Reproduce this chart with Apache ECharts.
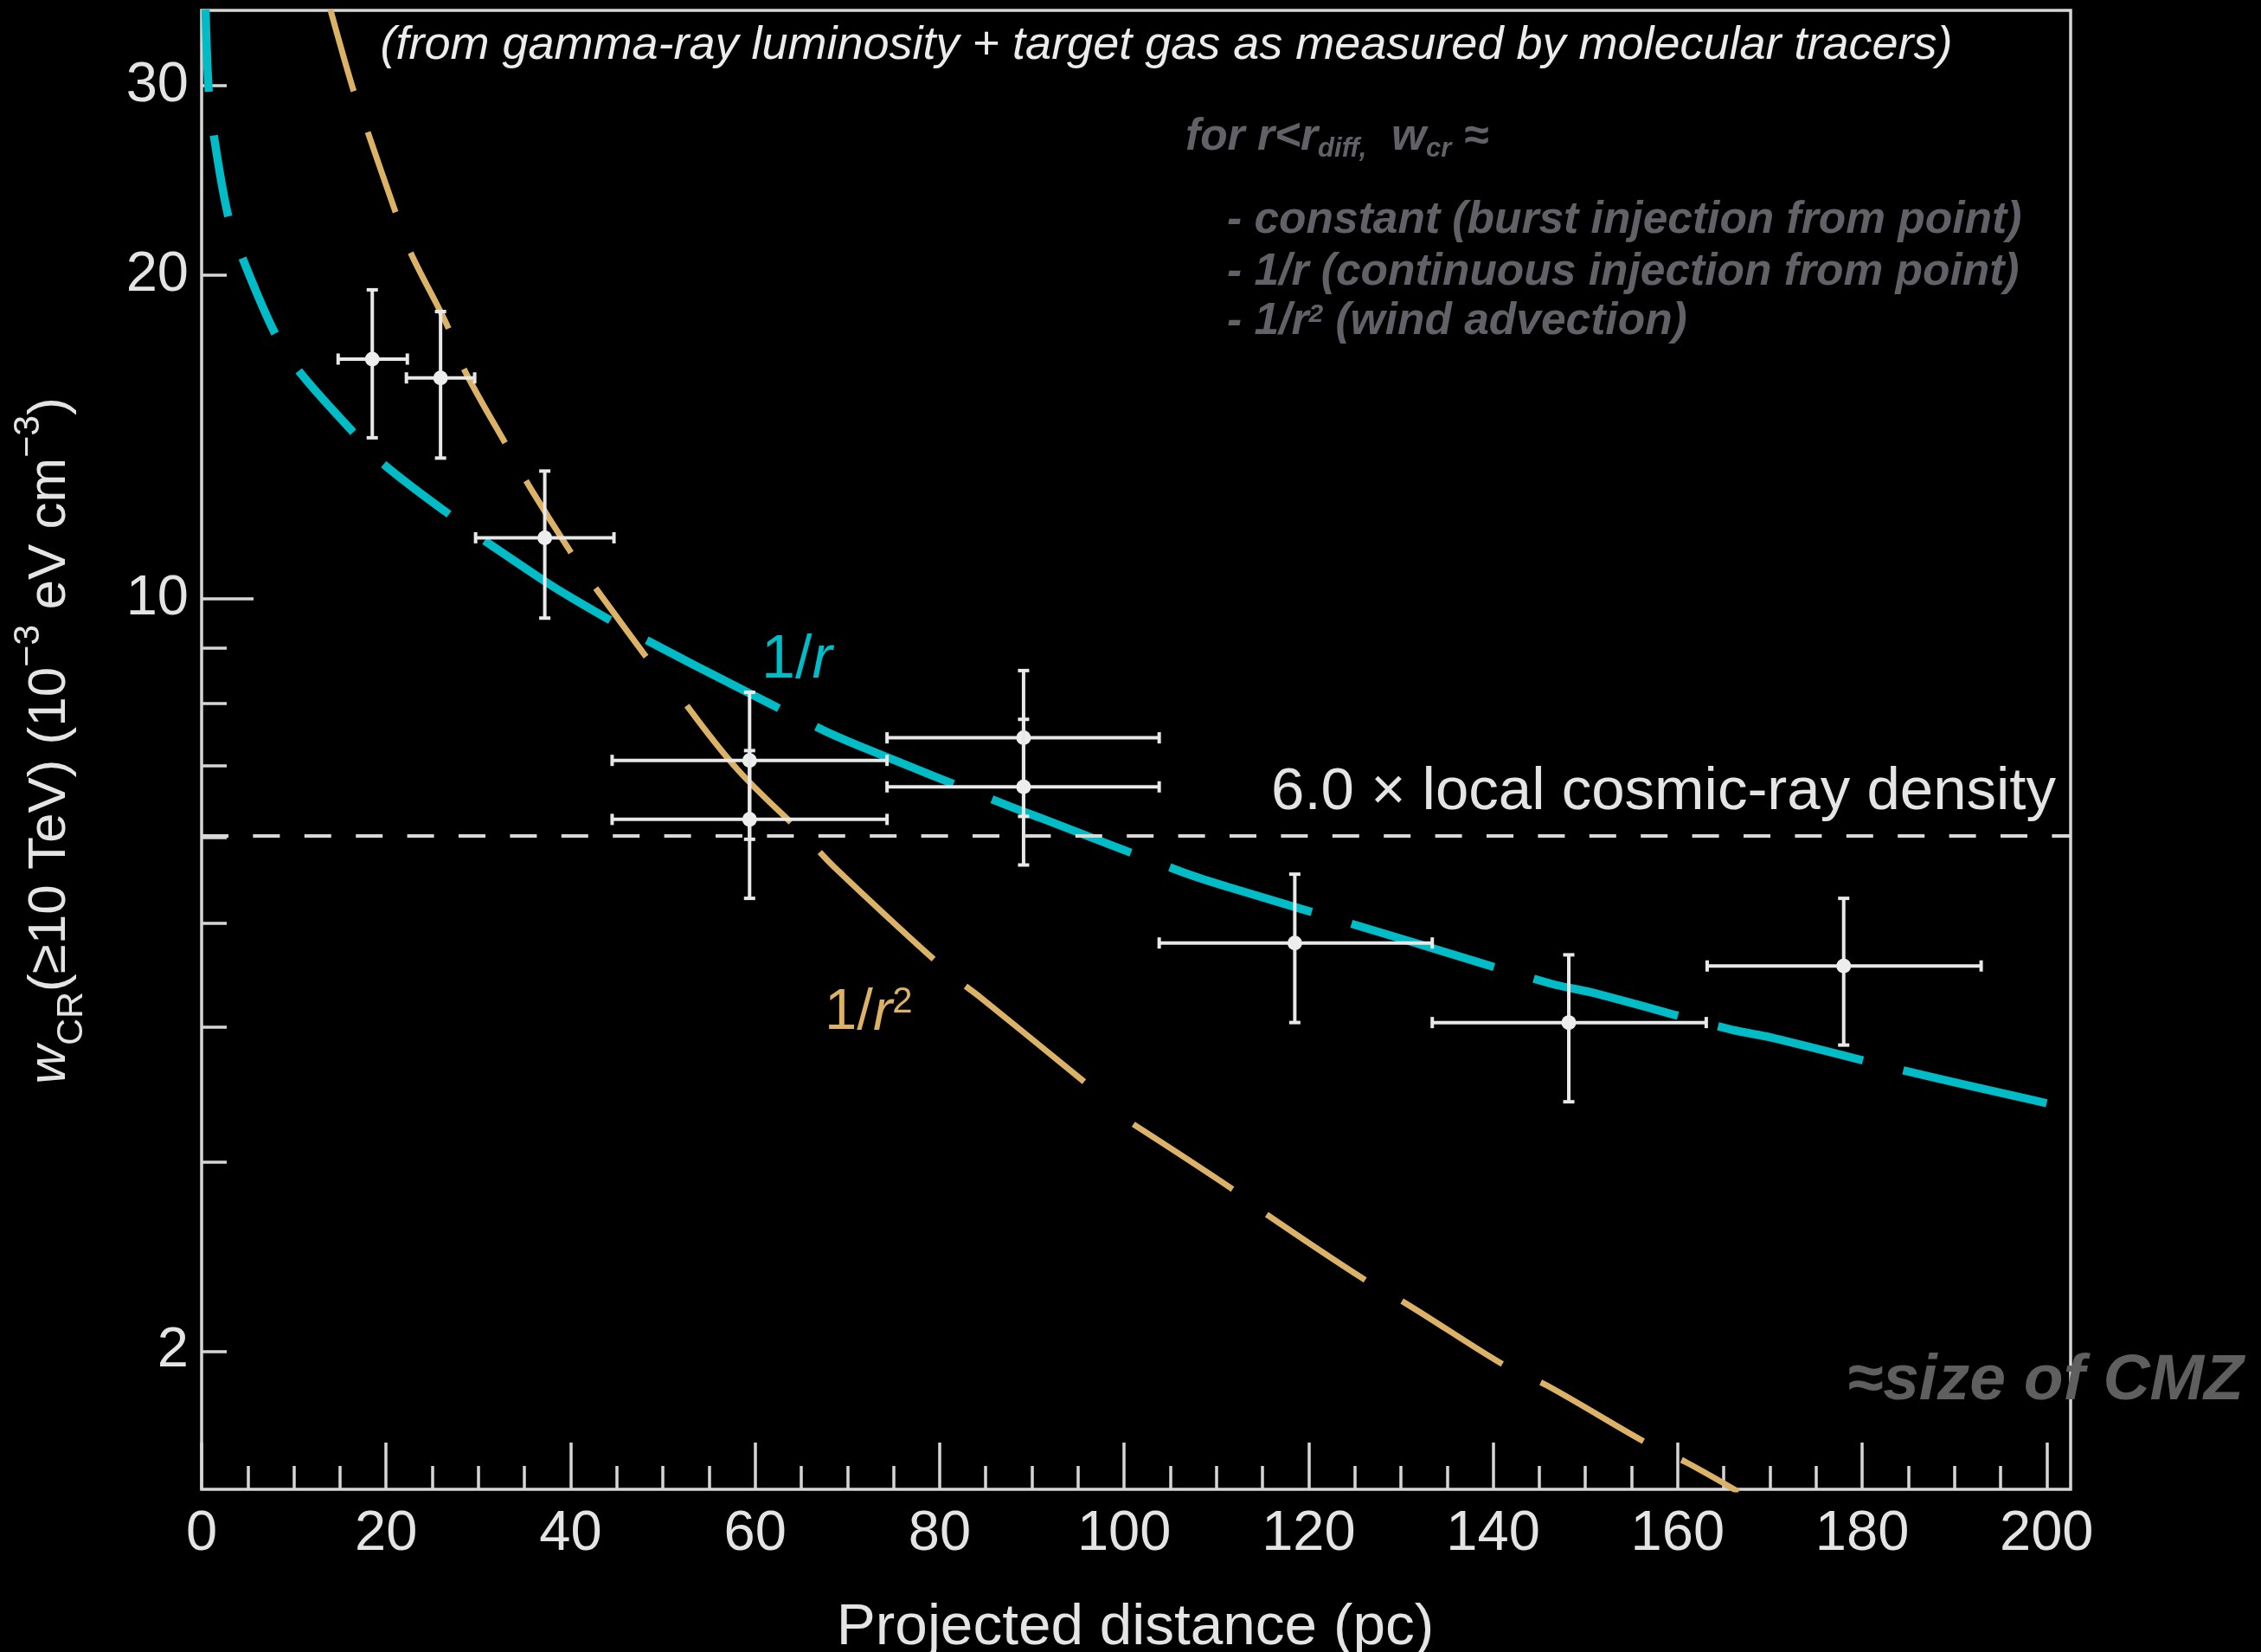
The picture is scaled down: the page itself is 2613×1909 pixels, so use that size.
<!DOCTYPE html>
<html>
<head>
<meta charset="utf-8">
<title>Cosmic-ray energy density vs projected distance</title>
<script src="https://cdn.jsdelivr.net/npm/echarts@6/dist/echarts.min.js"></script>
<style>
  html, body { margin: 0; padding: 0; background: #000; }
  #chart { width: 2613px; height: 1909px; }
</style>
</head>
<body>
<div id="chart"></div>
<script>
// Measured cosmic-ray energy density (>= 10 TeV) in radial bins around the Galactic Centre
const binCenter   = [18.5, 25.9, 37.2, 59.4, 59.4, 89.1, 89.1, 118.5, 148.2, 178.0];
const binLow      = [14.8, 22.2, 29.7, 44.5, 44.5, 74.3, 74.3, 103.8, 133.4, 163.2];
const binHigh     = [22.3, 29.6, 44.7, 74.3, 74.3, 103.8, 103.8, 133.4, 163.1, 192.9];
const density     = [16.71, 16.05, 11.40, 7.08, 6.24, 7.43, 6.69, 4.79, 4.04, 4.56];
const densityLow  = [14.12, 13.52, 9.60, 5.98, 5.27, 6.28, 5.66, 4.04, 3.41, 3.85];
const densityHigh = [19.38, 18.50, 13.15, 8.19, 7.23, 8.58, 7.73, 5.55, 4.67, 5.27];

// Projected 1/r profile (continuous injection from a point)
const invRDistance = [0.43, 0.78, 1.34, 2.94, 4.53, 8.06, 10.72, 16.63, 19.75, 27.11,
                      30.67, 37.41, 40.08, 45.99, 53.21, 67.28, 71.5, 87.14, 91.36, 106.44,
                      111.27, 126.37, 131.2, 146.3, 150.6, 165.76, 170.3, 185.46, 200.0];
const invRDensity  = [35.3, 29.57, 26.91, 22.58, 20.64, 17.58, 16.22, 14.23, 13.34, 11.94,
                      11.33, 10.36, 10.03, 9.38, 8.70, 7.56, 7.29, 6.44, 6.24, 5.57,
                      5.40, 4.94, 4.80, 4.39, 4.31, 3.98, 3.91, 3.63, 3.40];

// Projected 1/r^2 profile (wind advection)
const invR2Distance = [13.96, 16.51, 18.02, 20.98, 22.60, 26.64, 28.35, 33.51, 35.76, 40.64,
                       43.32, 49.51, 52.6, 58.18, 65.4, 68.53, 81.04, 84.47, 95.67, 101.0,
                       111.57, 115.36, 126.6, 130.73, 141.5, 145.79, 156.85, 160.96, 166.6];
const invR2Density  = [35.3, 29.6, 27.15, 22.94, 21.03, 17.94, 16.41, 13.67, 12.63, 10.85,
                       10.07, 8.53, 7.96, 6.93, 6.02, 5.64, 4.49, 4.26, 3.56, 3.25,
                       2.835, 2.683, 2.315, 2.21, 1.934, 1.859, 1.639, 1.576, 1.48];

const localDensityFactor = 6.0;

// Axis ranges and ticks
const distanceMax = 202.6;
const densityMin = 1.488;
const densityMax = 35.24;
const xTickValues  = [0, 20, 40, 60, 80, 100, 120, 140, 160, 180, 200];
const xMinorValues = [5, 10, 15, 25, 30, 35, 45, 50, 55, 65, 70, 75, 85, 90, 95,
                      105, 110, 115, 125, 130, 135, 145, 150, 155, 165, 170, 175,
                      185, 190, 195];
const yLabelValues = [2, 10, 20, 30];
const yMinorValues = [2, 3, 4, 5, 6, 7, 8, 9, 20, 30];
const yMajorValues = [10];

// ---------------------------------------------------------------------------
const lg = Math.log10;
const FONT = '"Liberation Sans", Arial, Helvetica, sans-serif';
const TXT = '#e4e4e4';
const FRAME = '#d6d6d6';
const CYAN = '#00bcc6';
const GOLD = '#dcb266';
const GREY = '#606268';

// Dash rhythm changes along each model curve: short dashes on the steep inner part
const invRZones  = [{ from: 0, to: 9, dash: [95, 51] }, { from: 10, to: 28, dash: [172, 48] }];
const invR2Zones = [{ from: 0, to: 11, dash: [98, 50] }, { from: 12, to: 18, dash: [181, 48] },
                    { from: 19, to: 28, dash: [137, 49] }];

function curveSeries(name, xs, ys, zones, color, width) {
  return zones.map(z => ({
    type: 'line',
    name,
    data: xs.slice(z.from, z.to + 1).map((x, i) => [x, lg(ys[z.from + i])]),
    symbol: 'none',
    showSymbol: false,
    smooth: 0.35,
    clip: true,
    silent: true,
    animation: false,
    z: 2,
    lineStyle: { color, width, type: z.dash, cap: 'butt' }
  }));
}

const pointData = binCenter.map((r, i) => [
  r, lg(density[i]), binLow[i], binHigh[i], lg(densityLow[i]), lg(densityHigh[i])
]);

function renderErrorBar(params, api) {
  const r = api.value(0), w = api.value(1);
  const c = api.coord([r, w]);
  const left = api.coord([api.value(2), w]);
  const right = api.coord([api.value(3), w]);
  const low = api.coord([r, api.value(4)]);
  const high = api.coord([r, api.value(5)]);
  const style = { stroke: '#e8e8e8', lineWidth: 4, fill: null };
  const cap = 6.5;
  const seg = (x1, y1, x2, y2) => ({ type: 'line', shape: { x1, y1, x2, y2 }, style });
  return {
    type: 'group',
    children: [
      seg(left[0], c[1], right[0], c[1]),
      seg(c[0], low[1], c[0], high[1]),
      seg(left[0], c[1] - cap, left[0], c[1] + cap),
      seg(right[0], c[1] - cap, right[0], c[1] + cap),
      seg(c[0] - cap, low[1], c[0] + cap, low[1]),
      seg(c[0] - cap, high[1], c[0] + cap, high[1]),
      { type: 'circle', shape: { cx: c[0], cy: c[1], r: 8.5 }, style: { fill: '#ededed' } }
    ]
  };
}

function text(x, y, content, style) {
  return {
    type: 'text', x, y, silent: true, z: 10,
    style: Object.assign({
      text: content, fill: TXT, fontFamily: FONT,
      align: 'left', verticalAlign: 'middle',
      textAlign: 'left', textVerticalAlign: 'middle'
    }, style)
  };
}

const greyBase = { fontFamily: FONT, fontStyle: 'italic', fontWeight: 'bold', fill: GREY };

const option = {
  backgroundColor: '#000000',
  animation: false,
  grid: {
    left: 233, top: 12, width: 2160, height: 1709,
    show: true, borderColor: FRAME, borderWidth: 3.5, backgroundColor: 'transparent',
    containLabel: false
  },
  xAxis: [
    {
      type: 'value', min: 0, max: distanceMax, position: 'bottom',
      axisLine: { show: false },
      splitLine: { show: false },
      axisTick: { show: true, inside: true, length: 54, customValues: xTickValues,
                  lineStyle: { color: FRAME, width: 3.5 } },
      axisLabel: { show: true, customValues: xTickValues, margin: 20,
                   color: TXT, fontSize: 65, fontFamily: FONT,
                   formatter: v => String(Math.round(v)) }
    },
    {
      type: 'value', min: 0, max: distanceMax, position: 'bottom',
      axisLine: { show: false },
      splitLine: { show: false },
      axisTick: { show: true, inside: true, length: 27, customValues: xMinorValues,
                  lineStyle: { color: FRAME, width: 3.5 } },
      axisLabel: { show: false }
    }
  ],
  yAxis: [
    {
      type: 'value', min: lg(densityMin), max: lg(densityMax), position: 'left',
      axisLine: { show: false },
      splitLine: { show: false },
      axisTick: { show: true, inside: true, length: 29, customValues: yMinorValues.map(lg),
                  lineStyle: { color: FRAME, width: 3.5 } },
      axisLabel: { show: true, customValues: yLabelValues.map(lg), margin: 15,
                   color: TXT, fontSize: 65, fontFamily: FONT,
                   formatter: v => String(Math.round(Math.pow(10, v))) }
    },
    {
      type: 'value', min: lg(densityMin), max: lg(densityMax), position: 'left',
      axisLine: { show: false },
      splitLine: { show: false },
      axisTick: { show: true, inside: true, length: 60, customValues: yMajorValues.map(lg),
                  lineStyle: { color: FRAME, width: 3.5 } },
      axisLabel: { show: false }
    }
  ],
  series: [
    ...curveSeries('1/r', invRDistance, invRDensity, invRZones, CYAN, 9.5),
    ...curveSeries('1/r²', invR2Distance, invR2Density, invR2Zones, GOLD, 7),
    {
      type: 'custom',
      name: 'measured',
      silent: true,
      z: 4,
      data: pointData,
      encode: { x: [0, 2, 3], y: [1, 4, 5] },
      renderItem: renderErrorBar,
      markLine: {
        silent: true,
        symbol: ['none', 'none'],
        animation: false,
        data: [{ yAxis: lg(localDensityFactor) }],
        lineStyle: { color: '#d9d9d9', width: 4, type: [31, 28.4] },
        label: {
          show: true,
          position: 'insideEndTop',
          formatter: localDensityFactor.toFixed(1) + ' \u00d7 local cosmic-ray density',
          color: TXT, fontSize: 69, fontFamily: FONT,
          distance: [17, 15]
        }
      }
    }
  ],
  graphic: [
    text(1348, 53, '(from gamma-ray luminosity + target gas as measured by molecular tracers)', {
      fontSize: 54, fontStyle: 'italic', fill: '#ececec', align: 'center', textAlign: 'center'
    }),
    text(1370, 158.4, '{m|for r<r}{s|diff,}{m|  w}{s|cr}{m| \u2248}', Object.assign({}, greyBase, {
      fontSize: 51.5,
      rich: {
        m: Object.assign({}, greyBase, { fontSize: 51.5, lineHeight: 60 }),
        s: Object.assign({}, greyBase, { fontSize: 31, lineHeight: 37, verticalAlign: 'bottom' })
      }
    })),
    text(1418, 254.4, '- constant (burst injection from point)', Object.assign({}, greyBase, { fontSize: 51.5 })),
    text(1418, 314.4, '- 1/r (continuous injection from point)', Object.assign({}, greyBase, { fontSize: 51.5 })),
    text(1418, 371.7, '{m|- 1/r}{s|2}{m| (wind advection)}', Object.assign({}, greyBase, {
      fontSize: 51.5,
      rich: {
        m: Object.assign({}, greyBase, { fontSize: 51.5, lineHeight: 46 }),
        s: Object.assign({}, greyBase, { fontSize: 30, lineHeight: 30, verticalAlign: 'top' })
      }
    })),
    text(2135, 1596, '\u2248size of CMZ', Object.assign({}, greyBase, { fontSize: 75, fill: '#5f5f5f' })),
    text(880, 764, '{n|1/}{i|r}', {
      fill: CYAN, fontSize: 70,
      rich: {
        n: { fontFamily: FONT, fontSize: 70, fill: CYAN, lineHeight: 70 },
        i: { fontFamily: FONT, fontSize: 70, fontStyle: 'italic', fill: CYAN, lineHeight: 70 }
      }
    }),
    text(953, 1171, '{n|1/}{i|r}{s|2}', {
      fill: GOLD, fontSize: 67,
      rich: {
        n: { fontFamily: FONT, fontSize: 67, fill: GOLD, lineHeight: 68 },
        i: { fontFamily: FONT, fontSize: 67, fontStyle: 'italic', fill: GOLD, lineHeight: 68 },
        s: { fontFamily: FONT, fontSize: 42, fill: GOLD, lineHeight: 42, verticalAlign: 'top' }
      }
    }),
    text(1312, 1881, 'Projected distance (pc)', {
      fontSize: 67.5, align: 'center', textAlign: 'center'
    }),
    {
      type: 'text', x: 58, y: 856, rotation: Math.PI / 2, silent: true, z: 10,
      style: {
        text: '{w|w}{sub|CR}{m|(\u226510 TeV) (10}{sup|\u22123}{m| eV cm}{sup|\u22123}{m|)}',
        fill: TXT, fontFamily: FONT, fontSize: 62,
        align: 'center', verticalAlign: 'middle', textAlign: 'center', textVerticalAlign: 'middle',
        rich: {
          w: { fontFamily: FONT, fontSize: 62, fontStyle: 'italic', fill: TXT, lineHeight: 93 },
          m: { fontFamily: FONT, fontSize: 62, fill: TXT, lineHeight: 93 },
          sub: { fontFamily: FONT, fontSize: 43, fill: TXT, lineHeight: 43, verticalAlign: 'bottom' },
          sup: { fontFamily: FONT, fontSize: 43, fill: TXT, lineHeight: 57, verticalAlign: 'top' }
        }
      }
    }
  ]
};

const chart = echarts.init(document.getElementById('chart'), null, { renderer: 'canvas' });
chart.setOption(option);
</script>
</body>
</html>
